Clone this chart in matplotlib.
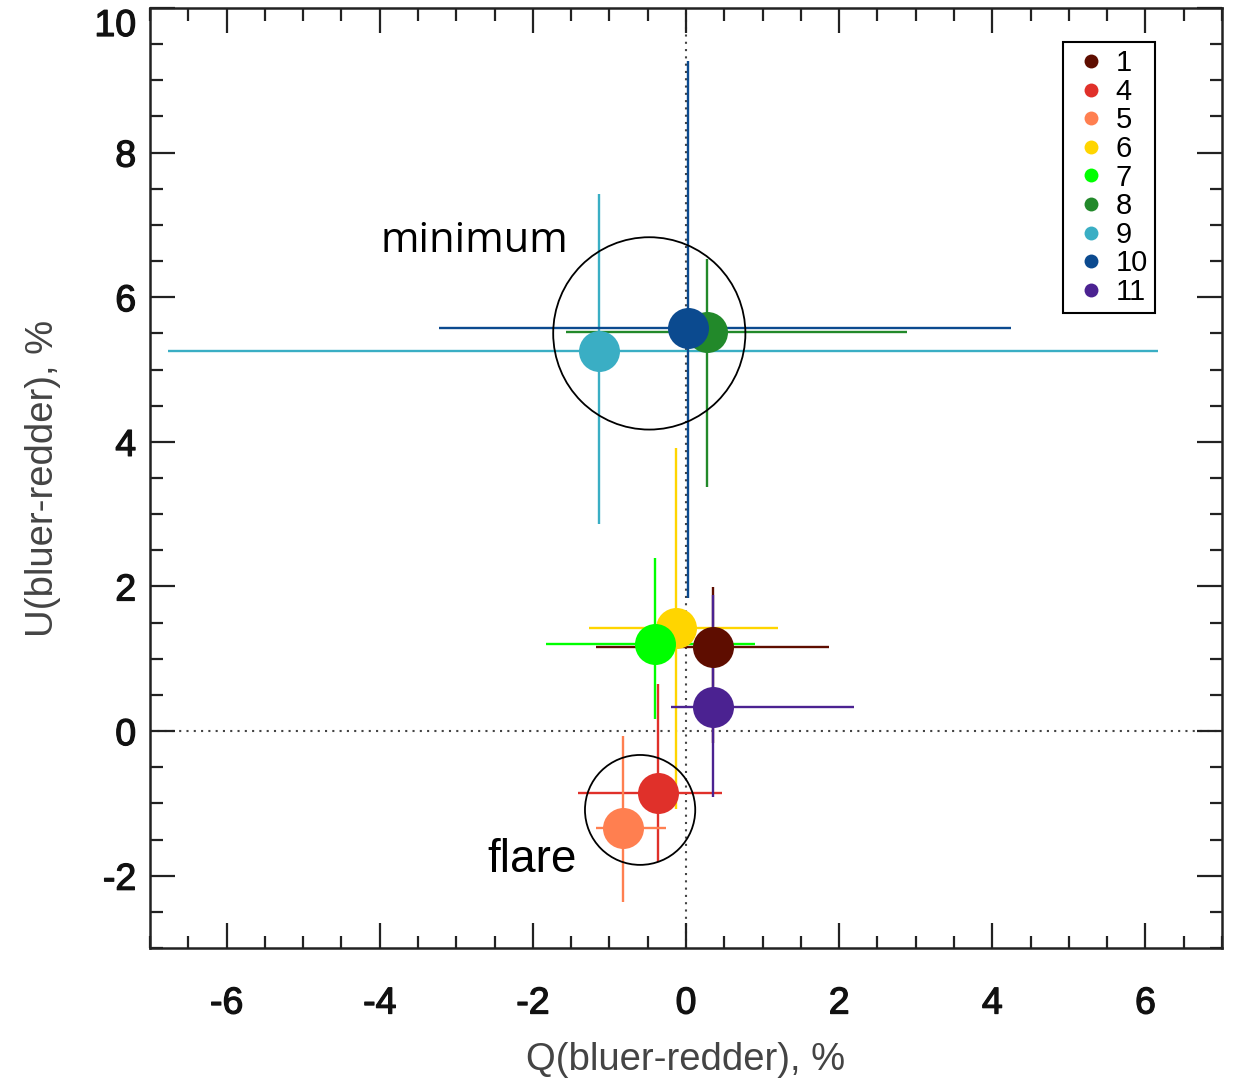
import matplotlib
matplotlib.use("Agg")
import matplotlib.pyplot as plt
import matplotlib.patheffects as pe
from matplotlib.patches import Ellipse
from matplotlib.ticker import MultipleLocator

plt.rcParams['font.family'] = ['Liberation Sans', 'DejaVu Sans']

# Observation numbers and their Q/U polarization (%)
labels = ["1", "4", "5", "6", "7", "8", "9", "10", "11"]
colors = ["#5e0d00", "#e0302a", "#ff7f50", "#ffd500", "#00ff00",
          "#22892a", "#3aaec4", "#0b4a8f", "#4b2291"]
q = [0.35, -0.37, -0.82, -0.13, -0.40, 0.27, -1.14, 0.03, 0.35]
u = [1.16, -0.86, -1.34, 1.42, 1.20, 5.52, 5.25, 5.57, 0.33]
# asymmetric errors: (minus, plus)
q_err_lo = [1.52, 1.04, 0.36, 1.14, 1.43, 1.84, 5.62, 3.26, 0.55]
q_err_hi = [1.52, 0.84, 0.56, 1.33, 1.30, 2.62, 7.31, 4.21, 1.85]
u_err_lo = [1.33, 0.95, 1.02, 2.50, 1.03, 2.15, 2.39, 3.73, 1.24]
u_err_hi = [0.83, 1.51, 1.27, 2.50, 1.20, 1.01, 2.18, 3.70, 1.55]

# Grouping circles: (center Q, center U, radius Q, radius U, label, label Q, label U, font, size)
groups = [
    (-0.48, 5.50, 1.255, 1.33, "minimum", -3.99, 6.78, "Open Sans", 30),
    (-0.60, -1.09, 0.72, 0.76, "flare", -2.59, -1.78, "Liberation Sans", 33),
]

xticks = [-6, -4, -2, 0, 2, 4, 6]
yticks = [-2, 0, 2, 4, 6, 8, 10]

fig = plt.figure(figsize=(12.33, 10.81), dpi=100)
ax = fig.add_axes([0.1217, 0.123, 0.8694, 0.8696])
ax.set_xlim(-7, 7)
ax.set_ylim(-3, 10)

ax.axvline(0, color="#444444", lw=1.5, ls=(0, (1, 2.5)), zorder=1)
ax.axhline(0, color="#444444", lw=1.5, ls=(0, (1, 2.5)), zorder=1)

for i in range(len(labels)):
    ax.errorbar(q[i], u[i],
                xerr=[[q_err_lo[i]], [q_err_hi[i]]],
                yerr=[[u_err_lo[i]], [u_err_hi[i]]],
                fmt="none", ecolor=colors[i], elinewidth=1.7, capsize=0,
                zorder=2)
for i in range(len(labels)):
    ax.plot(q[i], u[i], "o", color=colors[i], ms=29.5, mec="none", zorder=3)

for cq, cu, rq, ru, txt, tq, tu, fam, fs in groups:
    ax.add_patch(Ellipse((cq, cu), 2 * rq, 2 * ru, fill=False,
                         ec="black", lw=1.3, zorder=4))
    ax.text(tq, tu, txt, fontsize=fs, family=fam, ha="left", va="center",
            color="black")

# legend with small dots
handles = [plt.Line2D([], [], ls="none", marker="o", ms=10, color=c, mec="none")
           for c in colors]
leg = ax.legend(handles, labels, loc="upper right",
                bbox_to_anchor=(0.9375, 0.9638), borderaxespad=0,
                fontsize=21, handletextpad=0.15, labelspacing=0.02,
                borderpad=0.25, handlelength=1.4, fancybox=False,
                framealpha=1, edgecolor="black")
leg.get_frame().set_linewidth(1.5)

ax.xaxis.set_minor_locator(MultipleLocator(0.5))
ax.yaxis.set_minor_locator(MultipleLocator(0.5))
ax.set_xticks(xticks)
ax.set_xticklabels([str(v) for v in xticks])
ax.set_yticks(yticks)
ax.set_yticklabels([str(v) for v in yticks])
ax.tick_params(which="both", direction="in", top=True, right=True,
               width=1.6, color="#222222")
ax.tick_params(which="major", length=18, labelsize=27)
ax.tick_params(axis="x", which="major", pad=27)
ax.tick_params(axis="y", which="major", pad=10)
ax.tick_params(which="minor", length=9)
# slightly heavier than regular weight
heavy = [pe.withStroke(linewidth=0.9, foreground="#111111")]
for lab in ax.get_xticklabels() + ax.get_yticklabels():
    lab.set_color("#111111")
    lab.set_path_effects(heavy)
# keep the top label inside the figure
ax.get_yticklabels()[-1].set_verticalalignment("top")

for s in ax.spines.values():
    s.set_linewidth(1.8)
    s.set_color("#222222")

ax.set_xlabel("Q(bluer-redder), %", fontsize=27.5, color="#444444", labelpad=15)
ax.set_ylabel("U(bluer-redder), %", fontsize=27.5, color="#444444", labelpad=24)

fig.savefig("out.png", dpi=100)
